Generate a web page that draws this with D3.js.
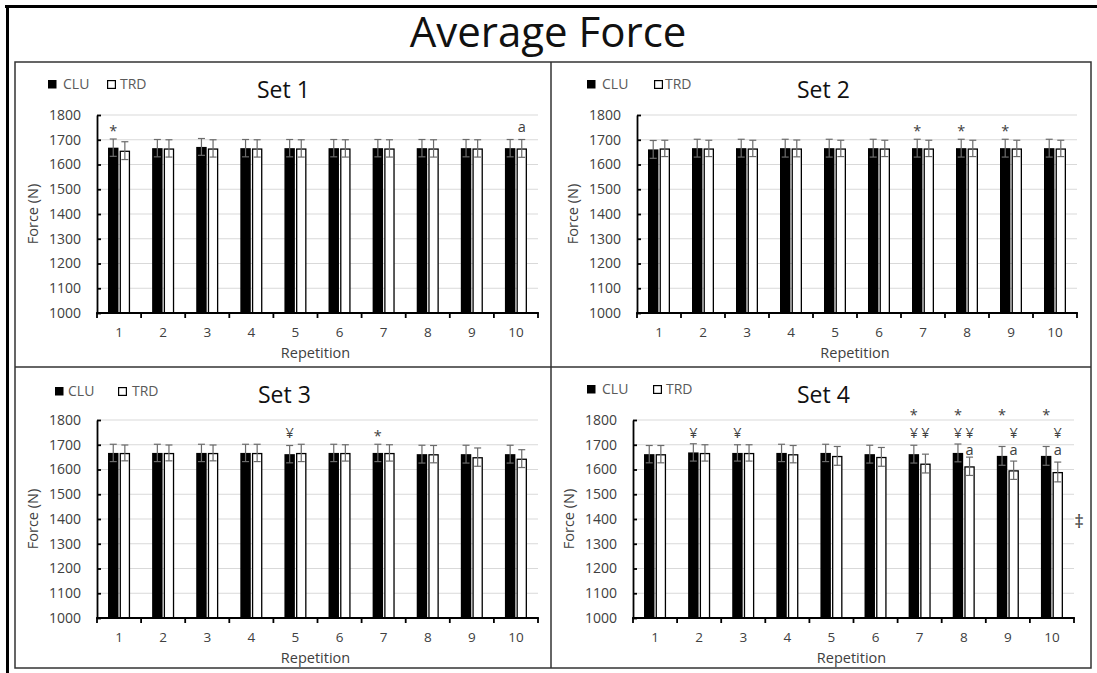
<!DOCTYPE html>
<html><head><meta charset="utf-8">
<script src="https://cdn.jsdelivr.net/npm/d3@7"></script>
<style>
html,body{margin:0;padding:0;background:#fff;}
svg{display:block;}
text{font-family:"Open Sans",sans-serif;}
</style>
</head><body>
<svg id="c" width="1097" height="673"></svg>
<script>
// ---------------- DATA ----------------
const chartTitle = "Average Force";
const reps = [1,2,3,4,5,6,7,8,9,10];
const seriesNames = ["CLU","TRD"];
const yTickValues = [1000,1100,1200,1300,1400,1500,1600,1700,1800];
const setTitles = ["Set 1","Set 2","Set 3","Set 4"];
const yAxisTitle = "Force (N)";
const xAxisTitle = "Repetition";

const set1CLU   = [1668,1666,1671,1666,1666,1666,1666,1666,1666,1666];
const set1TRD   = [1656,1665,1665,1665,1665,1665,1665,1665,1665,1665];
const set1CLUsd = [35,35,34,35,35,35,35,35,35,35];
const set1TRDsd = [36,35,35,35,35,35,35,35,35,36];

const set2CLU   = [1661,1666,1666,1666,1666,1666,1666,1666,1666,1666];
const set2TRD   = [1665,1665,1665,1665,1665,1665,1665,1665,1665,1665];
const set2CLUsd = [36,36,36,36,36,36,36,36,36,36];
const set2TRDsd = [33,33,33,34,33,33,33,33,33,33];

const set3CLU   = [1667,1667,1667,1667,1662,1667,1667,1662,1662,1662];
const set3TRD   = [1667,1667,1667,1667,1667,1667,1667,1662,1650,1644];
const set3CLUsd = [35,35,35,35,35,35,35,36,36,36];
const set3TRDsd = [32,32,32,35,35,33,33,35,37,36];

const set4CLU   = [1662,1669,1667,1667,1667,1662,1662,1667,1655,1655];
const set4TRD   = [1662,1667,1667,1662,1655,1651,1624,1613,1597,1590];
const set4CLUsd = [35,35,33,35,35,36,36,36,38,38];
const set4TRDsd = [35,33,33,35,38,38,38,37,37,40];

// significance marks: row 0 = lowest, row 2 = highest
const set1Marks = [{rep:1,series:"CLU",text:"*",row:1},{rep:10,series:"TRD",text:"a",row:1}];
const set2Marks = [{rep:7,series:"CLU",text:"*",row:1},{rep:8,series:"CLU",text:"*",row:1},{rep:9,series:"CLU",text:"*",row:1}];
const set3Marks = [{rep:5,series:"CLU",text:"¥",row:1},{rep:7,series:"CLU",text:"*",row:1}];
const set4Marks = [
  {rep:2,series:"CLU",text:"¥",row:1},{rep:3,series:"CLU",text:"¥",row:1},
  {rep:7,series:"CLU",text:"*",row:2},{rep:7,series:"CLU",text:"¥",row:1},{rep:7,series:"TRD",text:"¥",row:1},
  {rep:8,series:"CLU",text:"*",row:2},{rep:8,series:"CLU",text:"¥",row:1},{rep:8,series:"TRD",text:"¥",row:1},{rep:8,series:"TRD",text:"a",row:0},
  {rep:9,series:"CLU",text:"*",row:2},{rep:9,series:"TRD",text:"¥",row:1},{rep:9,series:"TRD",text:"a",row:0},
  {rep:10,series:"CLU",text:"*",row:2},{rep:10,series:"TRD",text:"¥",row:1},{rep:10,series:"TRD",text:"a",row:0}
];
const set4SideMark = "‡";

const sets = [
  {title:setTitles[0], values:{CLU:set1CLU,TRD:set1TRD}, sd:{CLU:set1CLUsd,TRD:set1TRDsd}, marks:set1Marks},
  {title:setTitles[1], values:{CLU:set2CLU,TRD:set2TRD}, sd:{CLU:set2CLUsd,TRD:set2TRDsd}, marks:set2Marks},
  {title:setTitles[2], values:{CLU:set3CLU,TRD:set3TRD}, sd:{CLU:set3CLUsd,TRD:set3TRDsd}, marks:set3Marks},
  {title:setTitles[3], values:{CLU:set4CLU,TRD:set4TRD}, sd:{CLU:set4CLUsd,TRD:set4TRDsd}, marks:set4Marks, side:set4SideMark}
];

// ---------------- LAYOUT ----------------
const layout = [
  {ax0:97,  ax1:538,  yTop:115, yBot:313, legY:84,  leg:[48,63,107,120],  titleX:257, titleY:90},
  {ax0:637, ax1:1077, yTop:115, yBot:313, legY:84,  leg:[587,602,654,665], titleX:797, titleY:90},
  {ax0:97,  ax1:538,  yTop:420, yBot:618, legY:391, leg:[55,68,118,132],  titleX:258, titleY:395},
  {ax0:633, ax1:1074, yTop:420, yBot:618, legY:389, leg:[587,602,653,666], titleX:797, titleY:395}
];
const rowLevels = [1672, 1748, 1832];
const glyphCenter = {"*":0.57, "¥":0.344, "a":0.26, "‡":0.27};
const markFont = "'Liberation Sans', Arial, sans-serif";

const svg = d3.select("#c");

// outer frame
svg.append("line").attr("x1",5).attr("x2",1097).attr("y1",6.5).attr("y2",6.5).attr("stroke","#000").attr("stroke-width",3);
svg.append("line").attr("x1",7.5).attr("x2",7.5).attr("y1",5).attr("y2",673).attr("stroke","#000").attr("stroke-width",3);
// panel grid
const fr = svg.append("g").attr("stroke","#333").attr("stroke-width",1.5).attr("fill","none");
fr.append("rect").attr("x",15).attr("y",62).attr("width",1091-15).attr("height",668-62);
fr.append("line").attr("x1",551).attr("x2",551).attr("y1",62).attr("y2",668);
fr.append("line").attr("x1",15).attr("x2",1091).attr("y1",367).attr("y2",367);

svg.append("text").attr("x",548).attr("y",47).attr("text-anchor","middle")
  .attr("font-size",42).attr("fill","#111").text(chartTitle);

sets.forEach((s, i) => {
  const L = layout[i];
  const g = svg.append("g");
  const y = d3.scaleLinear().domain([1000,1800]).range([L.yBot, L.yTop]);
  const x0 = d3.scaleBand().domain(reps).range([L.ax0, L.ax1]).paddingInner(0.5).paddingOuter(0.25);
  const x1 = d3.scaleBand().domain(seriesNames).range([0, x0.bandwidth()]).paddingInner(0.1);

  // gridlines
  g.append("g").selectAll("line").data(yTickValues.filter(v => v > 1000)).join("line")
    .attr("x1", L.ax0).attr("x2", L.ax1).attr("y1", d => y(d)).attr("y2", d => y(d))
    .attr("stroke","#d9d9d9").attr("stroke-width",1);

  // bars
  const rows = [];
  reps.forEach((r, k) => seriesNames.forEach(sn => rows.push({rep:r, series:sn, v:s.values[sn][k], sd:s.sd[sn][k]})));
  g.append("g").selectAll("rect").data(rows).join("rect")
    .attr("x", d => x0(d.rep) + x1(d.series) + (d.series==="TRD" ? 0.65 : 0))
    .attr("width", d => x1.bandwidth() - (d.series==="TRD" ? 1.3 : 0))
    .attr("y", d => y(d.v) + (d.series==="TRD" ? 0.65 : 0))
    .attr("height", d => L.yBot - y(d.v) - (d.series==="TRD" ? 0.65 : 0))
    .attr("fill", d => d.series==="CLU" ? "#000" : "#fff")
    .attr("stroke", d => d.series==="CLU" ? "none" : "#000")
    .attr("stroke-width", 1.3);

  // error bars
  const eb = g.append("g").attr("stroke","#6b6b6b").attr("stroke-width",1.2);
  rows.forEach(d => {
    const cx = x0(d.rep) + x1(d.series) + x1.bandwidth()/2;
    const yt = y(d.v + d.sd), yb = y(d.v - d.sd);
    eb.append("line").attr("x1",cx).attr("x2",cx).attr("y1",yt).attr("y2",yb);
    eb.append("line").attr("x1",cx-3.5).attr("x2",cx+3.5).attr("y1",yt).attr("y2",yt);
    eb.append("line").attr("x1",cx-3.5).attr("x2",cx+3.5).attr("y1",yb).attr("y2",yb);
  });

  // y axis
  const ya = g.append("g").attr("transform",`translate(${L.ax0},0)`)
    .call(d3.axisLeft(y).tickValues(yTickValues).tickSize(-4).tickSizeOuter(0).tickPadding(16).tickFormat(d3.format("d")));
  ya.select(".domain").attr("stroke","#000").attr("stroke-width",1.8);
  ya.selectAll(".tick line").attr("stroke","#000").attr("stroke-width",1.8);
  ya.selectAll(".tick text").attr("font-size",14).attr("fill","#404040").attr("font-family","Open Sans");

  // x axis
  const xa = g.append("g").attr("transform",`translate(0,${L.yBot})`)
    .call(d3.axisBottom(x0).tickSize(0).tickSizeOuter(0).tickPadding(14));
  xa.select(".domain").remove();
  xa.selectAll(".tick text").attr("font-size",13.5).attr("fill","#404040").attr("font-family","Open Sans");
  g.append("line").attr("x1",L.ax0-0.9).attr("x2",L.ax1+0.9).attr("y1",L.yBot).attr("y2",L.yBot)
    .attr("stroke","#000").attr("stroke-width",1.8);
  const bounds = reps.map(r => x0(r) - x0.step()*x0.paddingOuter()).concat([L.ax1]);
  g.append("g").selectAll("line").data(bounds).join("line")
    .attr("x1", d => d).attr("x2", d => d).attr("y1", L.yBot).attr("y2", L.yBot + 5)
    .attr("stroke","#000").attr("stroke-width",1.8);

  // axis titles
  g.append("text").attr("x", (L.ax0+L.ax1)/2 - 2).attr("y", L.yBot + 45).attr("text-anchor","middle")
    .attr("font-size",14.5).attr("fill","#404040").text(xAxisTitle);
  g.append("text").attr("transform",`translate(${L.ax0-64},${(L.yTop+L.yBot)/2}) rotate(-90)`)
    .attr("text-anchor","middle").attr("dy","0.35em")
    .attr("font-size",14.5).attr("fill","#404040").text(yAxisTitle);

  // legend
  const lg = g.append("g");
  lg.append("rect").attr("x",L.leg[0]).attr("y",L.legY-4).attr("width",8.5).attr("height",8.5).attr("fill","#000");
  lg.append("text").attr("x",L.leg[1]).attr("y",L.legY + 5).attr("font-size",14).attr("fill","#595959").text(seriesNames[0]);
  lg.append("rect").attr("x",L.leg[2]+0.6).attr("y",L.legY-3.4).attr("width",7.8).attr("height",7.8).attr("fill","#fff").attr("stroke","#000").attr("stroke-width",1.2);
  lg.append("text").attr("x",L.leg[3]).attr("y",L.legY + 5).attr("font-size",14).attr("fill","#595959").text(seriesNames[1]);

  // panel title
  g.append("text").attr("x",L.titleX).attr("y",L.titleY + 0.357*23).attr("font-size",23).attr("fill","#111").text(s.title);

  // significance marks
  const fs = 14.5;
  g.append("g").selectAll("text").data(s.marks).join("text")
    .attr("x", d => x0(d.rep) + x1(d.series) + x1.bandwidth()/2)
    .attr("y", d => y(rowLevels[d.row]) + glyphCenter[d.text]*fs)
    .attr("text-anchor","middle").attr("font-size",fs).attr("font-family",markFont).attr("fill","#404040")
    .text(d => d.text);
  if (s.side) {
    g.append("text").attr("x", L.ax1 + 5).attr("y", y(1385) + glyphCenter["‡"]*19)
      .attr("text-anchor","middle").attr("font-size",19).attr("font-family",markFont).attr("fill","#404040").text(s.side);
  }
});
</script>
</body></html>
